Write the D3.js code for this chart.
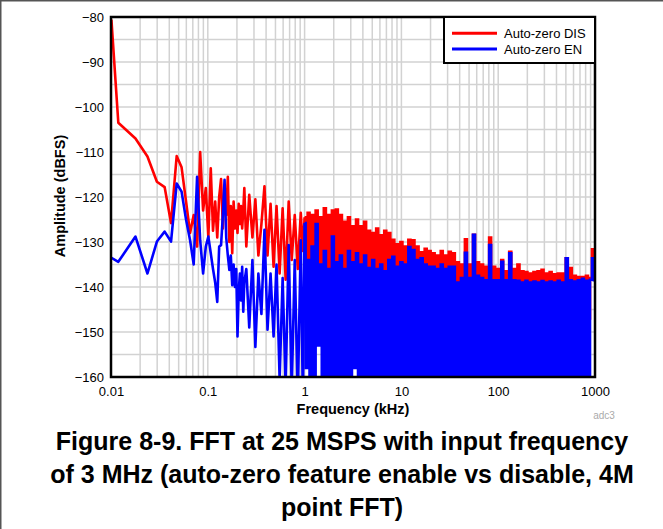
<!DOCTYPE html>
<html>
<head>
<meta charset="utf-8">
<script src="https://cdn.jsdelivr.net/npm/d3@7"></script>
<style>
  body { margin: 0; background: #fff; }
  svg { display: block; font-family: "Liberation Sans", Arial, Helvetica, sans-serif; }
</style>
</head>
<body>
<svg id="chart" width="663" height="529"></svg>
<script>
// ---- Axis labels and legend ----
const xTickValues = [0.01, 0.1, 1, 10, 100, 1000];
const xTickLabels = ["0.01", "0.1", "1", "10", "100", "1000"];
const yTickValues = [-80, -90, -100, -110, -120, -130, -140, -150, -160];
const seriesNames = ["Auto-zero DIS", "Auto-zero EN"];
const seriesColors = ["#ff0000", "#0000ff"];
const titleLines = [
  "Figure 8-9. FFT at 25 MSPS with input frequency",
  "of 3 MHz (auto-zero feature enable vs disable, 4M",
  "point FFT)"
];

// ---- Low-frequency FFT bins (kHz), drawn bin to bin ----
const freqSparse = [0.0101, 0.0119, 0.0179, 0.0238, 0.0298, 0.0358, 0.0417, 0.0477, 0.0536, 0.0596,
  0.0656, 0.0715, 0.0775, 0.0834, 0.0894, 0.0954, 0.1013, 0.1073, 0.1132, 0.1192,
  0.1252, 0.1311, 0.1371, 0.1431, 0.149, 0.155, 0.161, 0.1669, 0.1729, 0.1788,
  0.1848, 0.1907, 0.1967, 0.2027, 0.2086, 0.2146, 0.2205, 0.2265, 0.2325, 0.2384,
  0.25, 0.268, 0.289, 0.31, 0.333, 0.358, 0.385, 0.414, 0.445, 0.478,
  0.513, 0.552, 0.593, 0.637, 0.685, 0.736, 0.791, 0.85, 0.913, 0.96, 1.0];
const disSparse = [-80.6, -103.5, -107, -111, -116.6, -117.8, -125.8, -110.9, -113.4, -121,
  -128, -124, -131, -110, -123, -118, -129, -113.6, -127.5, -121,
  -129, -120, -116, -127, -119, -124, -115.5, -130, -122, -132.5,
  -121, -127, -123, -128, -121.5, -126, -122, -127, -123, -118,
  -131, -119.5, -129, -120.5, -133, -126, -117.6, -133, -121.5, -135.5,
  -122, -137, -122.5, -138.4, -121, -134, -124, -136, -123.5, -132, -124.5];
const enSparse = [-133.5, -134.4, -128.8, -137, -129.9, -127.7, -129.9, -117, -118.8, -125,
  -129.6, -135, -115.5, -129.6, -137, -131, -128.8, -132.5, -136, -139,
  -143.3, -131, -130.7, -124, -116.2, -129, -133, -136.2, -133, -139.6,
  -135, -140, -136, -151, -141, -137, -143, -135.5, -145.5, -139,
  -136, -149, -134, -153.3, -137, -146, -127.3, -149.5, -137, -151,
  -135, -160.5, -138, -162, -130.7, -163, -134, -165, -129.6, -166, -125.8];

// ---- Dense region (kHz), drawn as stepped bins ----
const freqDense = [
  1.0, 1.05, 1.1, 1.15, 1.21, 1.27, 1.33, 1.4, 1.47, 1.54, 1.62, 1.7, 1.78, 1.87, 1.96, 2.05,
  2.15, 2.26, 2.37, 2.49, 2.61, 2.74, 2.87, 3.01, 3.16, 3.32, 3.48, 3.65, 3.83, 4.02, 4.22, 4.42,
  4.64, 4.87, 5.11, 5.36, 5.62, 5.9, 6.19, 6.49, 6.81, 7.15, 7.5, 7.87, 8.25, 8.66, 9.09, 9.53,
  10, 10.5, 11, 11.5, 12.1, 12.7, 13.3, 14, 14.7, 15.4, 16.2, 17, 17.8, 18.7, 19.6, 20.5,
  21.5, 22.6, 23.7, 24.9, 26.1, 27.4, 28.7, 30.1, 31.6, 33.2, 34.8, 36.5, 38.3, 40.2, 42.2, 44.2,
  46.4, 48.7, 51.1, 53.6, 56.2, 59, 61.9, 64.9, 68.1, 71.5, 75, 78.7, 82.5, 86.6, 90.9, 95.3,
  100, 105, 110, 115, 121, 127, 133, 140, 147, 154, 162, 170, 178, 187, 196, 205,
  215, 226, 237, 249, 261, 274, 287, 301, 316, 332, 348, 365, 383, 402, 422, 442,
  464, 487, 511, 536, 562, 590, 619, 649, 681, 715, 750, 787, 825, 866, 909, 953, 990];
const disDense = [
  -124.5, -136, -123.5, -140, -124, -134, -123, -142, -124.5, -138, -122.5, -145, -124, -137, -123, -157,
  -122.8, -141, -124, -139, -125.5, -146, -124.5, -155, -126.5, -140, -125, -143, -126.5, -138, -125.5, -144,
  -127.5, -141, -128, -146, -127, -142, -128.5, -145, -127.5, -140, -128, -147, -129.5, -143, -130.5, -141,
  -130, -143, -131, -146, -129.5, -141, -129.6, -148, -131, -144, -132.3, -147, -131.5, -143, -132, -148,
  -132.5, -145, -133, -147, -132, -144, -133, -149, -132.2, -145, -132.5, -147, -134.5, -146, -135, -148,
  -129.4, -145, -135, -147, -128.4, -146, -134.5, -148, -135, -146, -135.5, -149, -129, -147, -135.5, -148,
  -136, -146, -134, -149, -136.5, -147, -132.2, -148, -136, -146, -135, -149, -136.5, -147, -136.7, -148,
  -137, -146, -136.7, -149, -136.5, -147, -136.2, -148, -137, -146, -136.7, -149, -137.2, -147, -137, -148,
  -137, -146, -133.6, -149, -135.8, -147, -137.5, -148, -137.8, -146, -137.8, -149, -137.5, -147, -138, -131.6, -138];
const enDense = [
  -125.8, -158, -134, -162, -131, -163, -126, -153, -135, -166, -132, -160, -136, -168, -128.8, -163,
  -134.5, -170, -133, -164, -136, -171, -132, -167, -134.5, -158, -132.5, -172, -135, -166, -133, -170,
  -135.8, -168, -134, -173, -136, -170, -135, -174, -136.5, -169, -134, -172, -133.3, -170, -135.5, -173,
  -134.5, -172, -135, -170, -131.1, -173, -131.8, -171, -134, -174, -133.6, -170, -135, -172, -135.5, -175,
  -135.5, -171, -136, -173, -135, -170, -136, -174, -135.5, -172, -135.5, -175, -139, -171, -138, -173,
  -132.4, -172, -138, -174, -128.4, -171, -137.5, -173, -138, -170, -138.5, -174, -130.7, -171, -138.5, -173,
  -138.5, -172, -134.4, -170, -138.5, -173, -132.5, -171, -138.5, -174, -138.6, -170, -139, -172, -138.6, -174,
  -139, -171, -138.8, -173, -139, -170, -138.7, -172, -139, -174, -138.8, -171, -139, -173, -138.6, -170,
  -139, -172, -133.6, -174, -138.5, -171, -138.8, -173, -138.5, -170, -138.2, -172, -138.6, -174, -138.4, -133.6, -138.5];

// ---- Layout ----
const W = 663, H = 529;
const plot = { left: 111, right: 595, top: 17, bottom: 377 };

const x = d3.scaleLog().domain([0.01, 1000]).range([plot.left, plot.right]);
const y = d3.scaleLinear().domain([-160, -80]).range([plot.bottom, plot.top]);

const svg = d3.select("#chart");

// page frame
svg.append("rect")
  .attr("x", 0.75).attr("y", 0.75)
  .attr("width", W + 20).attr("height", H + 20)
  .attr("fill", "none").attr("stroke", "#555").attr("stroke-width", 1.5);

svg.append("clipPath").attr("id", "plotClip")
  .append("rect")
  .attr("x", plot.left).attr("y", plot.top)
  .attr("width", plot.right - plot.left).attr("height", plot.bottom - plot.top);

// grid
const grid = svg.append("g").attr("stroke", "#d2d2d2").attr("stroke-width", 1.5);
grid.selectAll("line.v").data(x.ticks()).join("line")
  .attr("class", "v")
  .attr("x1", d => x(d)).attr("x2", d => x(d))
  .attr("y1", plot.top).attr("y2", plot.bottom);
grid.selectAll("line.h").data(y.ticks(16)).join("line")
  .attr("class", "h")
  .attr("x1", plot.left).attr("x2", plot.right)
  .attr("y1", d => y(d)).attr("y2", d => y(d));

// traces
const traces = svg.append("g").attr("clip-path", "url(#plotClip)");
const lineLinear = d3.line().x(d => x(d[0])).y(d => y(d[1]));
const lineStep = d3.line().x(d => x(d[0])).y(d => y(d[1])).curve(d3.curveStep);

const series = [
  { sparse: disSparse, dense: disDense, color: seriesColors[0] },
  { sparse: enSparse, dense: enDense, color: seriesColors[1] }
];
series.forEach(s => {
  traces.append("path")
    .attr("d", lineLinear(freqSparse.map((f, i) => [f, s.sparse[i]])))
    .attr("fill", "none").attr("stroke", s.color)
    .attr("stroke-width", 2.6).attr("stroke-linejoin", "round");
  traces.append("path")
    .attr("d", lineStep(freqDense.map((f, i) => [f, s.dense[i]])))
    .attr("fill", "none").attr("stroke", s.color)
    .attr("stroke-width", 2.6).attr("stroke-linejoin", "miter");
});

// plot frame
svg.append("rect")
  .attr("x", plot.left).attr("y", plot.top)
  .attr("width", plot.right - plot.left).attr("height", plot.bottom - plot.top)
  .attr("fill", "none").attr("stroke", "#000").attr("stroke-width", 2.5);

// axes
const yAxis = svg.append("g")
  .attr("transform", `translate(${plot.left},0)`)
  .call(d3.axisLeft(y).tickValues(yTickValues).tickSize(0).tickPadding(7).tickFormat(d3.format("d")));
const xAxis = svg.append("g")
  .attr("transform", `translate(0,${plot.bottom})`)
  .call(d3.axisBottom(x).tickValues(xTickValues).tickSize(0).tickPadding(10)
    .tickFormat((d, i) => xTickLabels[i]));
[xAxis, yAxis].forEach(a => {
  a.select(".domain").remove();
  a.selectAll("text").attr("font-size", 13).attr("fill", "#000")
    .attr("font-family", "'Liberation Sans', Arial, sans-serif");
});

// axis titles
svg.append("text")
  .attr("x", 353).attr("y", 414)
  .attr("text-anchor", "middle").attr("font-size", 14.5).attr("font-weight", "bold")
  .text("Frequency (kHz)");
svg.append("text")
  .attr("transform", "translate(65,196) rotate(-90)")
  .attr("text-anchor", "middle").attr("font-size", 14.5).attr("font-weight", "bold")
  .text("Amplitude (dBFS)");

// legend
const legend = svg.append("g");
legend.append("rect")
  .attr("x", 444).attr("y", plot.top)
  .attr("width", plot.right - 444).attr("height", 46)
  .attr("fill", "#fff").attr("stroke", "#000").attr("stroke-width", 2);
seriesNames.forEach((name, i) => {
  const ly = 33.3 + i * 15.7;
  legend.append("line")
    .attr("x1", 452).attr("x2", 497).attr("y1", ly).attr("y2", ly)
    .attr("stroke", seriesColors[i]).attr("stroke-width", 3);
  legend.append("text")
    .attr("x", 504).attr("y", ly + 4.6)
    .attr("font-size", 13).text(name);
});

// small source tag
svg.append("text")
  .attr("x", 604).attr("y", 419).attr("text-anchor", "middle")
  .attr("font-size", 10).attr("fill", "#aaa").text("adc3");

// caption
svg.append("g").selectAll("text").data(titleLines).join("text")
  .attr("x", 342).attr("y", (d, i) => 450 + i * 33)
  .attr("text-anchor", "middle").attr("font-size", 25).attr("font-weight", "bold")
  .attr("fill", "#000")
  .text(d => d);
</script>
</body>
</html>
